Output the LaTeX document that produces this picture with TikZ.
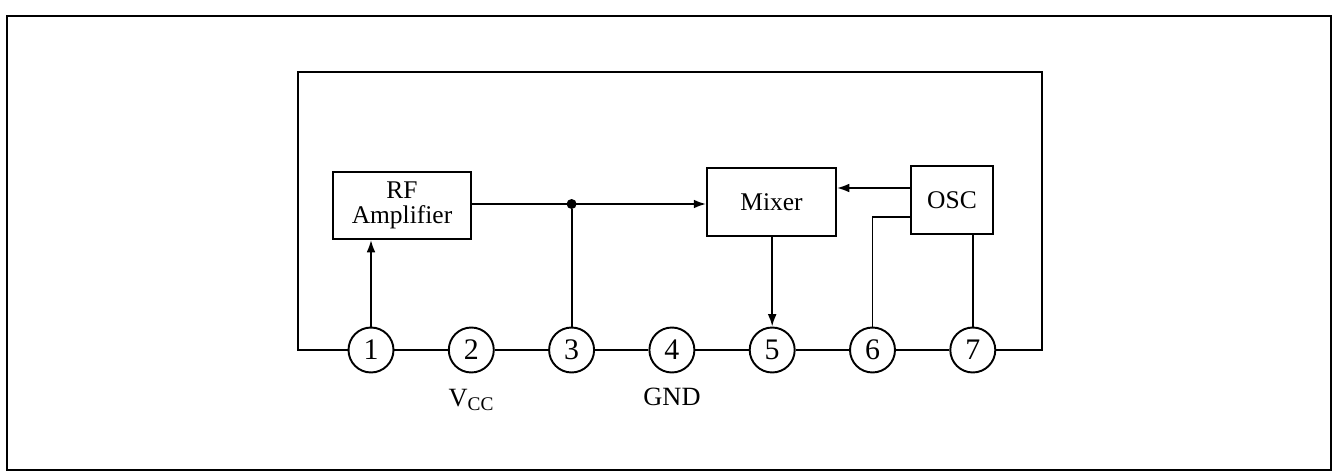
\documentclass[tikz,border=0pt]{standalone}
\usepackage{fontspec}
\setmainfont{Liberation Serif}
\usepackage{tikz}
\usetikzlibrary{arrows.meta,positioning,calc}
\tikzset{
  block/.style={draw, line width=1.1pt, fill=white, align=center,
    inner sep=2pt, font=\fontsize{14.5}{14.5}\selectfont},
  pin/.style={draw, circle, line width=1.1pt, minimum size=0.9cm, inner sep=0pt,
    fill=white, font=\fontsize{17}{17}\selectfont},
  wire/.style={line width=1.1pt},
  flow/.style={-{Latex[length=7pt,width=5pt]}, line width=1.1pt},
  pinlabel/.style={font=\fontsize{15}{15}\selectfont},
  junction/.style={circle, fill, inner sep=0pt, minimum size=0.2cm}
}

\begin{document}
\begin{tikzpicture}[x=0.02cm, y=-0.02cm]
      \useasboundingbox (0,0) rectangle (1333,473);
      \draw[line width=1.2pt] (7,16) rectangle (1331,470);
      % pins of the package
      \foreach \i in {1,...,7}
        \node[pin] (p\i) at ({371+100.3*(\i-1)},350) {\i};
      \foreach \i/\j in {1/2,2/3,3/4,4/5,5/6,6/7}
        \draw[wire] (p\i) -- (p\j);
      \node[pinlabel] (vcc) at (471,400) {V\raisebox{-0.35ex}{\fontsize{11}{11}\selectfont CC}};
      \node[pinlabel] (gnd) at (672,397) {GND};
      % blocks
      \node[block, minimum width=2.76cm, minimum height=1.34cm] (rf) at (402,205.5) {RF\\Amplifier};
      \node[block, minimum width=2.58cm, minimum height=1.36cm] (mixer) at (771.5,202) {Mixer};
      \node[block, minimum width=1.64cm, minimum height=1.36cm] (osc) at (952,200) {OSC};
      % package outline
      \coordinate (cbl) at (298,352);
      \coordinate (ctl) at (298,72);
      \coordinate (ctr) at (1042,72);
      \coordinate (cbr) at (1042,348);
      \draw[wire] (p1.west) -- (p1.west -| cbl) -- (ctl) -- (ctr) -- (cbr |- p7.east) -- (p7.east);
      % signal paths
      \draw[flow] (p1) -- (p1 |- rf.south);
      \draw[flow] (rf.east |- 0,204) -- (mixer.west |- 0,204);
      \node[junction] (dot) at (p3 |- 0,204) {};
      \draw[wire] (p3) -- (dot);
      \draw[flow] (osc.west |- 0,188) -- (mixer.east |- 0,188);
      \draw[wire] (osc.west |- 0,217) -| (p6);
      \draw[wire] (osc.south -| p7) -- (p7);
      \draw[flow] (mixer.south -| p5) -- (p5);
    \end{tikzpicture}
\end{document}
